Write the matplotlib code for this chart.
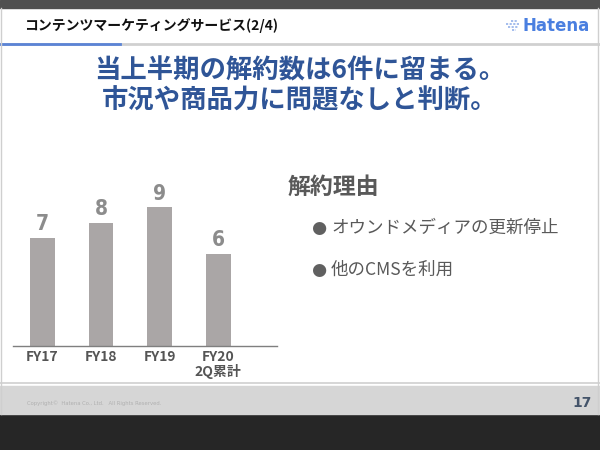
import matplotlib.pyplot as plt
from matplotlib.patches import Rectangle

plt.rcParams['font.family'] = ['Noto Sans CJK JP', 'DejaVu Sans']

# data
categories = ['FY17', 'FY18', 'FY19', 'FY20\n2Q累計']
values = [7, 8, 9, 6]
header = 'コンテンツマーケティングサービス(2/4)'
headline = '当上半期の解約数は6件に留まる。\n市況や商品力に問題なしと判断。'
reason_title = '解約理由'
reasons = ['オウンドメディアの更新停止', '他のCMSを利用']

W, H = 600, 450
fig = plt.figure(figsize=(6, 4.5), dpi=100)

# background / decoration axis in pixel coords (y down)
bg = fig.add_axes([0, 0, 1, 1])
bg.set_xlim(0, W)
bg.set_ylim(H, 0)
bg.axis('off')

bg.add_patch(Rectangle((0, 0), W, H, color='white'))
bg.add_patch(Rectangle((0, 0), W, 8, color='#505050'))
bg.add_patch(Rectangle((0, 414), W, 36, color='#262626'))
bg.add_patch(Rectangle((0, 386), W, 28, color='#d6d6d6'))
bg.plot([0, W], [383, 383], color='#d0d0d0', lw=1.2)
bg.plot([0, W], [44, 44], color='#d0d0d0', lw=2)
bg.plot([0, 120], [44, 44], color='#5b84d6', lw=2)
bg.plot([1, 1], [8, 414], color='#cfcfcf', lw=1)
bg.plot([598, 598], [8, 414], color='#cfcfcf', lw=1)

bg.text(24, 26, header, fontsize=10, fontweight='bold', color='#111111',
        va='center', ha='left')

# logo
for i, (x0, x1) in enumerate([(511, 518), (506, 520), (508, 518), (512, 516)]):
    bg.plot([x0, x1], [21 + i * 3, 21 + i * 3], color='#9db8ec', lw=1.3, ls=(0, (1.2, 0.8)))
bg.text(522, 26, 'Hatena', fontsize=12, fontweight='bold', color='#4a7fe0',
        va='center', ha='left', family='DejaVu Sans')

bg.text(300, 86, headline, fontsize=19, fontweight='bold', color='#2f5597',
        va='center', ha='center', linespacing=1.12)

bg.text(288, 187, reason_title, fontsize=16.5, fontweight='bold', color='#595959',
        va='center', ha='left')
for i, r in enumerate(reasons):
    y = 228 + i * 42
    bg.text(311, y, '●', fontsize=12.5, color='#606060', va='center', ha='left',
            family='DejaVu Sans')
    bg.text(331, y, r, fontsize=12.6, color='#595959', va='center', ha='left')

bg.text(27, 403, 'Copyright©  Hatena Co., Ltd.   All Rights Reserved.', fontsize=3.8,
        color='#b0b0b0', va='center', ha='left', family='DejaVu Sans')
bg.text(592, 403, '17', fontsize=10, fontweight='bold', color='#44546a',
        va='center', ha='right', family='DejaVu Sans')

# bar chart
left, width = 13 / W, 264 / W
bottom = (H - 346) / H
height = 169.4 / H
ax = fig.add_axes([left, bottom, width, height])
ax.patch.set_alpha(0)
x = list(range(len(categories)))
ax.bar(x, values, width=0.42, color='#aaa6a6')
ax.set_xlim(-0.5, 4.0)
ax.set_ylim(0, 11)
for xi, v in zip(x, values):
    ax.text(xi, v + 0.25, str(v), ha='center', va='bottom', fontsize=15,
            fontweight='bold', color='#8c8c8c', family='DejaVu Sans',
            stretch='condensed')
for s in ['top', 'right', 'left']:
    ax.spines[s].set_visible(False)
ax.spines['bottom'].set_color('#7f7f7f')
ax.spines['bottom'].set_linewidth(1)
ax.set_yticks([])
ax.set_xticks(x)
ax.set_xticklabels(categories, fontsize=10, fontweight='bold', color='#555555',
                   linespacing=1.0)
ax.tick_params(axis='x', length=0, pad=3)

fig.savefig('out.png', dpi=100)
